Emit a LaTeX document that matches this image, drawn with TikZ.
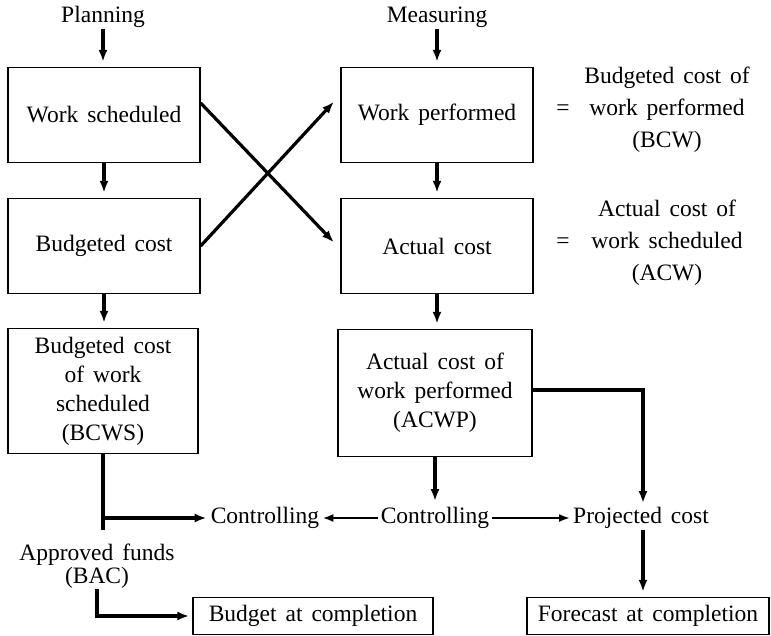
\documentclass[tikz,border=0pt]{standalone}
\usepackage{fontspec}
\setmainfont{Liberation Serif}
\usetikzlibrary{arrows.meta, positioning}
\newcommand\diagfont[1]{\fontsize{23.5}{#1}\selectfont\spaceskip=0.38em plus 0.1em\relax}
\tikzset{
  costbox/.style={draw=black, line width=1.3pt, align=center, minimum width=192pt,
                  minimum height=95pt, inner sep=2pt},
  endbox/.style={draw=black, line width=1.3pt, minimum height=37pt, inner sep=5pt},
  flowarrow/.style={-{Latex[length=12pt,width=9pt]}, line width=3.2pt, shorten >=5pt},
  thinarrow/.style={-{Latex[length=11pt,width=8pt]}, line width=2.2pt, shorten >=2pt, shorten <=2pt},
  flowline/.style={line width=3.2pt},
  plainlabel/.style={align=center, inner sep=1pt},
}

\begin{document}
\begin{tikzpicture}[x=1pt, y=-1pt, font=\diagfont{29}]
  \useasboundingbox (0,0) rectangle (771,636);

  % Planning column
  \node[plainlabel] (plan) at (103,17) {Planning};
  \node[costbox] (ws) at (104,115) {Work scheduled};
  \node[costbox] (bc) at (104,246) {Budgeted cost};
  \node[costbox, minimum width=190pt, minimum height=125pt] (bcws) at (103,391)
    {Budgeted cost\\of work\\scheduled\\(BCWS)};

  % Measuring column
  \node[plainlabel] (meas) at (437,17) {Measuring};
  \node[costbox] (wp) at (437,115) {Work performed};
  \node[costbox] (ac) at (437,246) {Actual cost};
  \node[costbox, minimum width=194pt, minimum height=127pt] (acwp) at (435,393)
    {Actual cost of\\work performed\\(ACWP)};

  % Equivalences on the right
  \node (eq1) at (563,110) {=};
  \node (eq2) at (563,243) {=};
  \node[plainlabel, font=\diagfont{32}] (bcw) at (667,110)
    {Budgeted cost of\\work performed\\(BCW)};
  \node[plainlabel, font=\diagfont{32}] (acw) at (667,243)
    {Actual cost of\\work scheduled\\(ACW)};

  % Controlling row
  \node[plainlabel] (ctl1) at (265,518) {Controlling};
  \node[plainlabel] (ctl2) at (435,518) {Controlling};
  \node[plainlabel] (proj) at (641,518) {Projected cost};
  \node[plainlabel, font=\diagfont{23}] (funds) at (97,566)
    {Approved funds\\(BAC)};

  % Completion boxes
  \node[endbox, minimum width=240pt] (bac) at (313,616) {Budget at completion};
  \node[endbox, minimum width=242pt] (fac) at (648,616) {Forecast at completion};

  % Vertical flow
  \draw[flowarrow] (plan) -- (plan |- ws.north);
  \draw[flowarrow] (ws) -- (bc);
  \draw[flowarrow] (bc.south) -- (bc.south |- bcws.north);
  \draw[flowarrow] (meas) -- (wp);
  \draw[flowarrow] (wp) -- (ac);
  \draw[flowarrow] (ac.south) -- (ac.south |- acwp.north);

  % Crossing arrows
  \draw[flowarrow] ([yshift=12pt]ws.east) -- ([xshift=-3pt]ac.west);
  \draw[flowarrow] (bc.east) -- ([xshift=-3pt, yshift=17pt]wp.west);

  % Budget branch
  \coordinate (split) at (bcws.south |- ctl1);
  \draw[flowline] (bcws.south) -- ([yshift=-12pt]split);
  \draw[flowarrow, shorten >=3pt] (split) -- (ctl1.west);
  \draw[flowarrow, shorten >=3pt] (funds.south) |- (bac.west);

  % Actual cost branch
  \draw[flowarrow] (acwp.south) -- (ctl2.north);
  \draw[thinarrow] (ctl2.west) -- (ctl1.east);
  \draw[thinarrow] (ctl2.east) -- (proj.west);
  \draw[flowarrow, shorten >=3pt] ([yshift=3pt]acwp.east) -| ([xshift=2pt]proj.north);
  \draw[flowarrow] ([xshift=2pt]proj.south) -- ([xshift=2pt]proj.south |- fac.north);
\end{tikzpicture}
\end{document}
